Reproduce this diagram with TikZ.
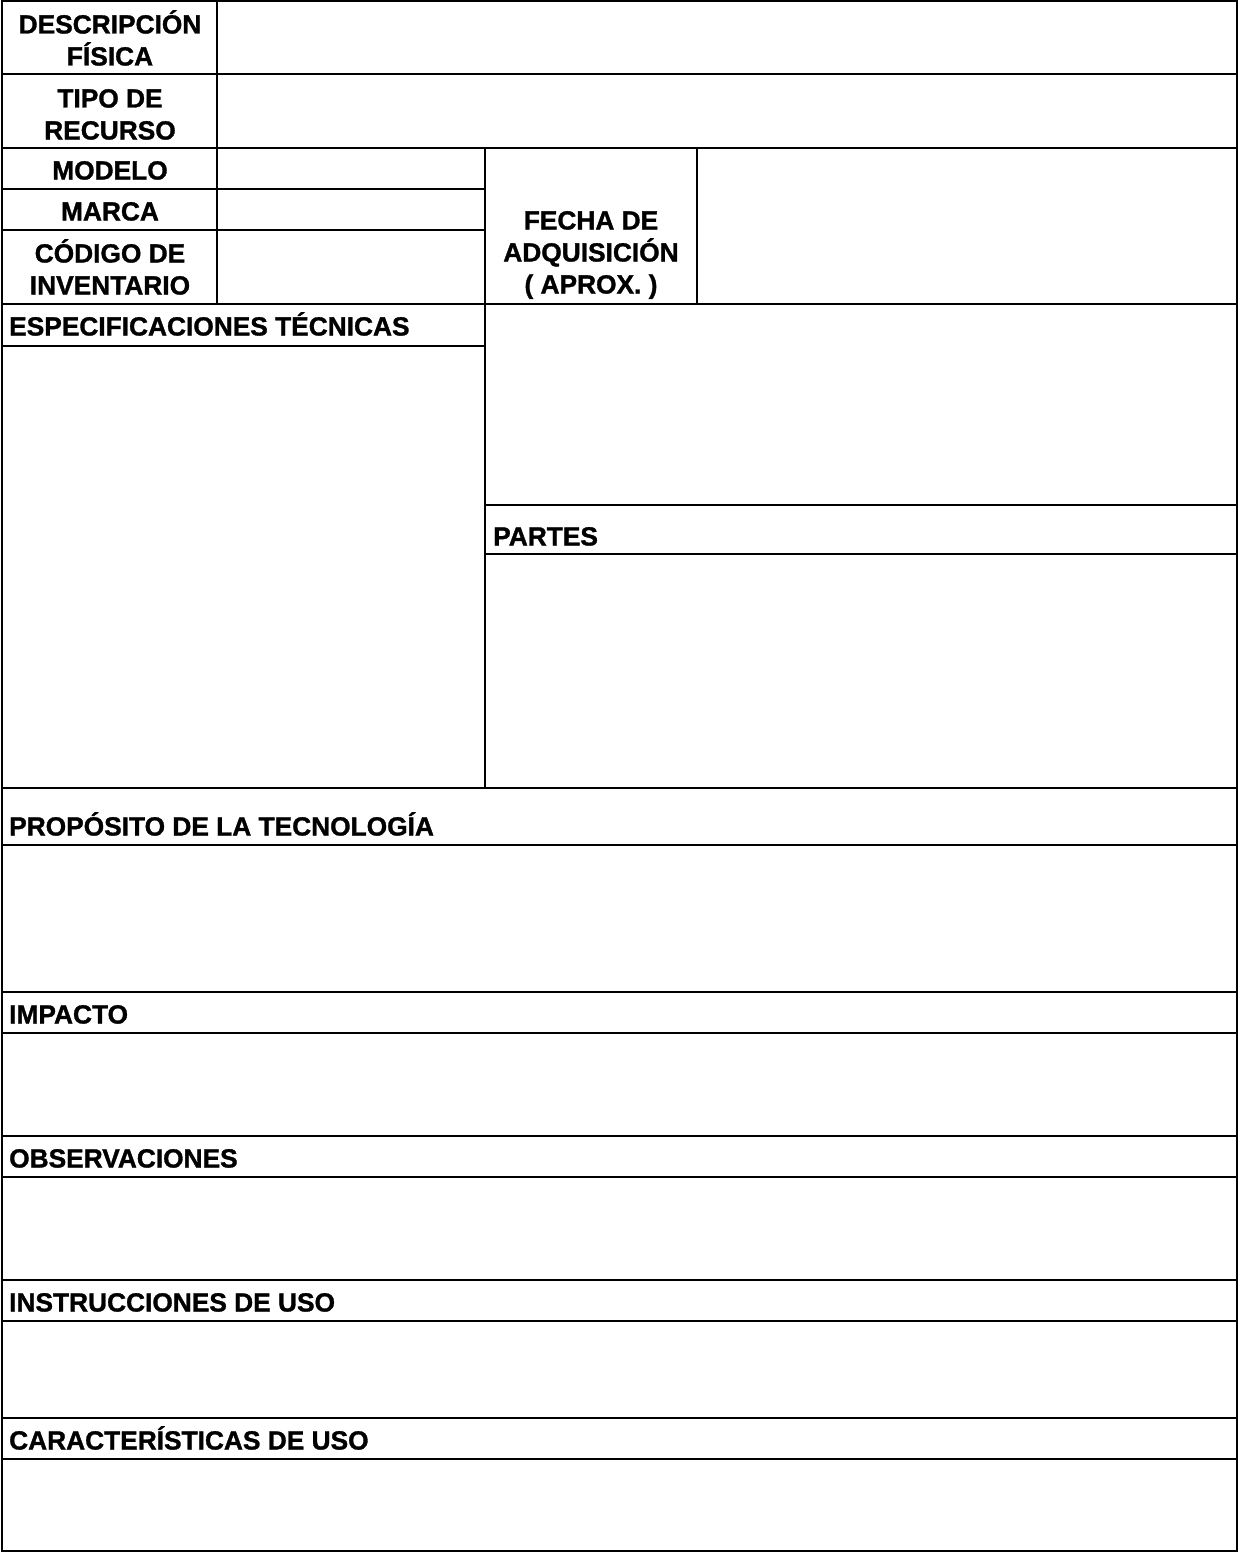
\documentclass[tikz,border=0pt]{standalone}
\usepackage{fontspec}
\setmainfont{Liberation Sans}
\newfontfamily\lblfont{Liberation Sans Bold}[FakeBold=1.2]
\begin{document}
\begin{tikzpicture}[x=1pt,y=-1pt,
  lbl/.style={font=\lblfont\fontsize{26.3}{32}\selectfont, inner sep=0pt, anchor=base},
  hdr/.style={lbl, anchor=base west},
  rule/.style={line width=2.4pt, line cap=rect}]
\useasboundingbox (0,0) rectangle (1238,1552);
\fill[white] (0,0) rectangle (1238,1552);
% outer frame
\draw[rule] (2,1.2) rectangle (1236.8,1550.8);
% full-width horizontal rules
\foreach \y in {74,148,304,788,845,992,1033,1136,1177,1280,1321,1418,1459}
  \draw[rule] (2,\y) -- (1236.8,\y);
% partial horizontal rules
\draw[rule] (2,189) -- (485,189);
\draw[rule] (2,230) -- (485,230);
\draw[rule] (2,346) -- (485,346);
\draw[rule] (485,505) -- (1236.8,505);
\draw[rule] (485,554) -- (1236.8,554);
% vertical rules
\draw[rule] (217,1.2) -- (217,304);
\draw[rule] (485,148) -- (485,788);
\draw[rule] (697,148) -- (697,304);
% left column labels
\node[lbl] (desc1) at (110,33.5) {DESCRIPCIÓN};
\node[lbl] (desc2) at (110,65.5) {FÍSICA};
\node[lbl] (tipo1) at (110,107.5) {TIPO DE};
\node[lbl] (tipo2) at (110,139.5) {RECURSO};
\node[lbl] (modelo) at (110,179.5) {MODELO};
\node[lbl] (marca) at (110,220.5) {MARCA};
\node[lbl] (cod1) at (110,262.5) {CÓDIGO DE};
\node[lbl] (cod2) at (110,294.5) {INVENTARIO};
% fecha
\node[lbl] (fecha1) at (591,229.5) {FECHA DE};
\node[lbl] (fecha2) at (591,261.5) {ADQUISICIÓN};
\node[lbl] (fecha3) at (591,293.5) {( APROX. )};
% section headers
\node[hdr] (espec) at (9,335.5) {ESPECIFICACIONES TÉCNICAS};
\node[hdr] (partes) at (493,545.5) {PARTES};
\node[hdr] (proposito) at (9,835.5) {PROPÓSITO DE LA TECNOLOGÍA};
\node[hdr] (impacto) at (9,1023.5) {IMPACTO};
\node[hdr] (obs) at (9,1167.5) {OBSERVACIONES};
\node[hdr] (instr) at (9,1311.5) {INSTRUCCIONES DE USO};
\node[hdr] (carac) at (9,1449.5) {CARACTERÍSTICAS DE USO};
\end{tikzpicture}
\end{document}
